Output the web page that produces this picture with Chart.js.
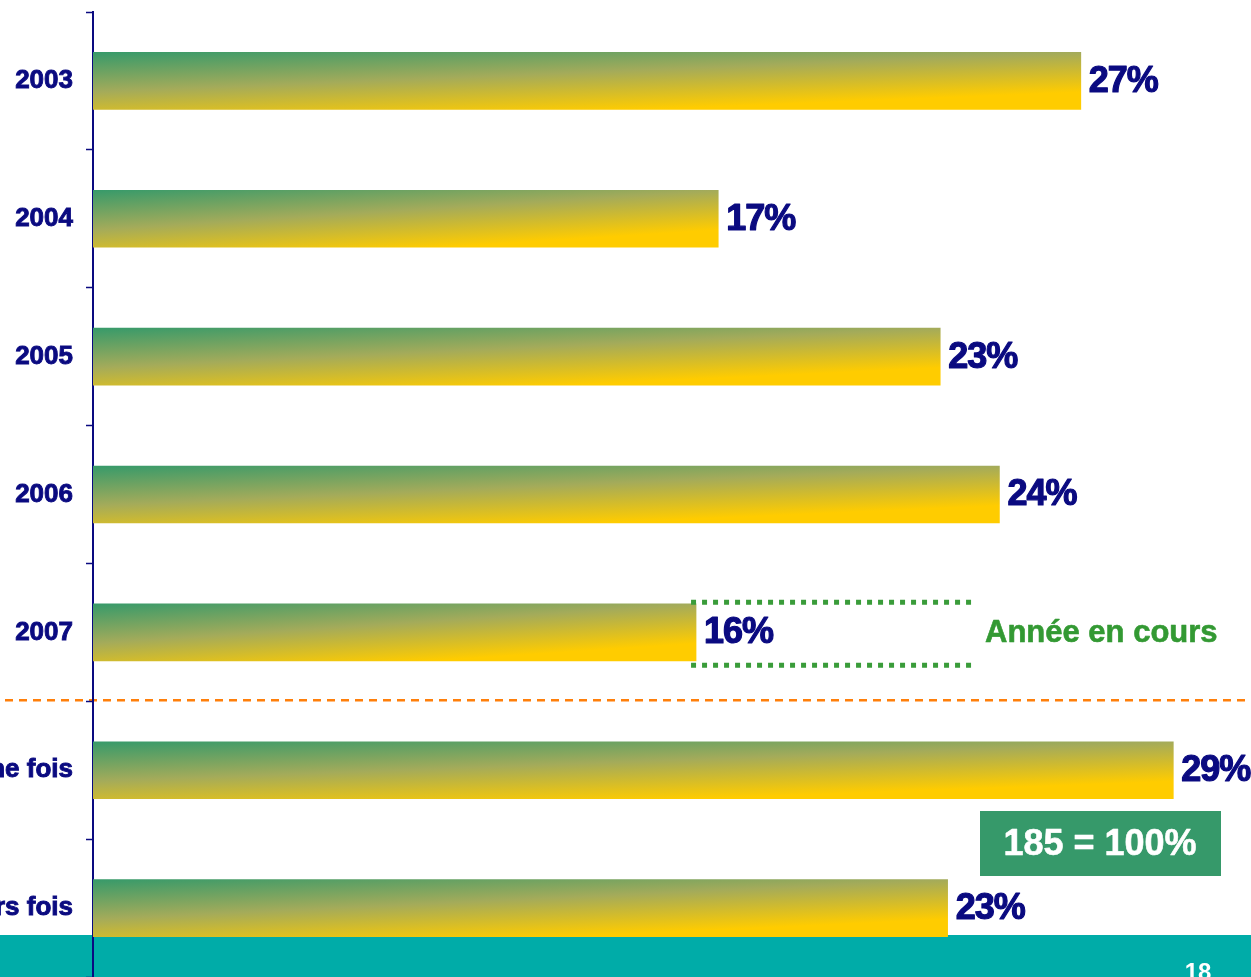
<!DOCTYPE html>
<html>
<head>
<meta charset="utf-8">
<script src="https://cdn.jsdelivr.net/npm/chart.js@4.4.1/dist/chart.umd.min.js"></script>
<style>
  html, body { margin: 0; padding: 0; background: #ffffff; overflow: hidden; }
  #wrap { position: relative; width: 1251px; height: 977px; }
</style>
</head>
<body>
<div id="wrap"><canvas id="chart"></canvas></div>
<script>
const categories = ["2003", "2004", "2005", "2006", "2007", "Une fois", "Plusieurs fois"];
const shares = [26.7, 16.9, 22.9, 24.5, 16.3, 29.2, 23.1];
const shareLabels = ["27%", "17%", "23%", "24%", "16%", "29%", "23%"];
const currentYearIndex = 4;
const currentYearNote = "Année en cours";
const sampleNote = "185 = 100%";
const pageNumber = "18";

const navy = "#0a0a80";
const font = "'Liberation Sans', Arial, sans-serif";
const BAR_H = 57;

// PowerPoint style diagonal fill: green top-left to yellow bottom-right
function barFill(ctx, x0, y0, w, h) {
  const gx = 0.5 / w;
  const gy = 0.72 / h;
  const n2 = gx * gx + gy * gy;
  const g = ctx.createLinearGradient(x0, y0, x0 + gx / n2, y0 + gy / n2);
  g.addColorStop(0, "#379a6a");
  g.addColorStop(0.5, "#a4ab5a");
  g.addColorStop(1, "#ffcc00");
  return g;
}

// heavy text like the slide's bold Arial
function heavyText(ctx, text, x, y, stroke) {
  ctx.lineWidth = stroke;
  ctx.strokeStyle = ctx.fillStyle;
  ctx.lineJoin = "round";
  ctx.strokeText(text, x, y);
  ctx.fillText(text, x, y);
}

const backdrop = {
  id: "backdrop",
  beforeDraw(chart) {
    const { ctx, width, height } = chart;
    ctx.save();
    ctx.fillStyle = "#00aca8";
    ctx.fillRect(0, 935, width, height - 935);

    // separator between the years and the "fois" rows
    const y = (chart.scales.y.getPixelForValue(4) + chart.scales.y.getPixelForValue(5)) / 2 - 1;
    ctx.strokeStyle = "#ff7f0a";
    ctx.lineWidth = 2.5;
    ctx.setLineDash([8, 6]);
    ctx.lineDashOffset = -5;
    ctx.beginPath();
    ctx.moveTo(0, y);
    ctx.lineTo(width, y);
    ctx.stroke();
    ctx.restore();
  },
};

const notes = {
  id: "notes",
  afterDatasetsDraw(chart) {
    const { ctx } = chart;
    const bars = chart.getDatasetMeta(0).data;
    ctx.save();

    ctx.fillStyle = navy;
    ctx.font = "bold 36px " + font;
    ctx.letterSpacing = "-1px";
    ctx.textAlign = "left";
    ctx.textBaseline = "middle";
    bars.forEach((bar, i) => {
      heavyText(ctx, shareLabels[i], bar.x + 8, bar.y + 1, 1.2);
    });
    ctx.letterSpacing = "0px";

    // dotted frame around the current year value
    const cur = bars[currentYearIndex];
    ctx.strokeStyle = "#3a9c3a";
    ctx.lineWidth = 5;
    ctx.setLineDash([5, 6]);
    [cur.y - 30, cur.y + 33].forEach((y) => {
      ctx.beginPath();
      ctx.moveTo(cur.x - 5, y);
      ctx.lineTo(cur.x + 278, y);
      ctx.stroke();
    });
    ctx.setLineDash([]);

    ctx.fillStyle = "#339933";
    ctx.font = "bold 31px " + font;
    heavyText(ctx, currentYearNote, 985, cur.y + 1, 0.6);

    // sample size box
    ctx.fillStyle = "#36996a";
    ctx.fillRect(980, 811, 241, 65);
    ctx.fillStyle = "#ffffff";
    ctx.font = "bold 36px " + font;
    ctx.textAlign = "center";
    heavyText(ctx, sampleNote, 1100, 845, 0.6);

    ctx.font = "bold 24px " + font;
    ctx.textBaseline = "alphabetic";
    ctx.fillText(pageNumber, 1198, 980);
    ctx.restore();
  },
};

new Chart(document.getElementById("chart"), {
  type: "bar",
  data: {
    labels: categories,
    datasets: [
      {
        data: shares,
        barThickness: BAR_H,
        borderWidth: 0,
        backgroundColor: (context) => {
          const chart = context.chart;
          if (!chart.chartArea || !chart.scales.x) return "#9aae5a";
          const x0 = chart.scales.x.getPixelForValue(0);
          const x1 = chart.scales.x.getPixelForValue(context.raw);
          const yc = chart.scales.y.getPixelForValue(context.dataIndex);
          return barFill(chart.ctx, x0, yc - BAR_H / 2, Math.max(x1 - x0, 1), BAR_H);
        },
      },
    ],
  },
  options: {
    indexAxis: "y",
    responsive: true,
    maintainAspectRatio: false,
    animation: false,
    layout: { padding: { top: 12, right: 0, bottom: 0, left: 0 } },
    plugins: {
      legend: { display: false },
      tooltip: { enabled: false },
    },
    scales: {
      x: {
        display: false,
        min: 0,
        max: 31.3,
      },
      y: {
        afterFit: (scale) => {
          scale.width = 93;
          scale.paddingTop = 0;
          scale.paddingBottom = 0;
        },
        grid: {
          offset: true,
          drawOnChartArea: false,
          drawTicks: true,
          tickLength: 7,
          tickColor: navy,
          tickWidth: 1.5,
        },
        border: { display: true, color: navy, width: 2 },
        ticks: {
          color: navy,
          padding: 13,
          autoSkip: false,
          textStrokeColor: navy,
          textStrokeWidth: 0.9,
          font: { family: font, size: 26, weight: "bold" },
        },
      },
    },
  },
  plugins: [backdrop, notes],
});
</script>
</body>
</html>
